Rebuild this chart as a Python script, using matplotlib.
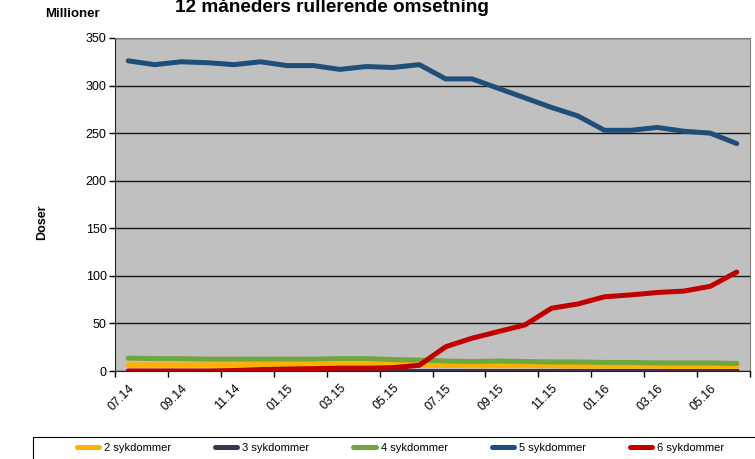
import matplotlib.pyplot as plt
import numpy as np
from matplotlib.patches import Rectangle

plt.rcParams["font.family"] = ["Liberation Sans", "DejaVu Sans"]

months = [
    "07.14", "08.14", "09.14", "10.14", "11.14", "12.14",
    "01.15", "02.15", "03.15", "04.15", "05.15", "06.15",
    "07.15", "08.15", "09.15", "10.15", "11.15", "12.15",
    "01.16", "02.16", "03.16", "04.16", "05.16", "06.16",
]

s2 = [6.5, 6.5, 6.5, 6.5, 6.5, 7, 7, 7, 7, 7, 7, 6.5,
      6, 5.5, 5.5, 5.5, 5.5, 5, 5, 5, 5, 4.5, 4.5, 4.5]
s3 = [0.5, 0.5, 0.5, 0.5, 0.5, 0.5, 0.5, 0.5, 0.5, 0.5, 0.5, 0.5,
      0.5, 0.5, 0.5, 0.5, 0.5, 0.5, 0.5, 0.5, 0.5, 0.5, 0.5, 0.5]
s4 = [13.5, 13, 13, 12.5, 12.5, 12.5, 12.5, 12.5, 13, 13, 12, 11.5,
      10.5, 10, 10.5, 10, 9.5, 9.5, 9, 9, 8.5, 8.5, 8.5, 8]
s5 = [326, 322, 325, 324, 322, 325, 321, 321, 317, 320, 319, 322,
      307, 307, 297, 287, 277, 268, 253, 253, 256, 252, 250, 239]
s6 = [0, 0, 0, 0, 0.5, 1.5, 2, 2.5, 3, 3, 3.5, 6,
      25.5, 34.5, 41.5, 48.5, 66, 70.5, 78, 80, 82.5, 84, 89, 104]

series = [
    ("2 sykdommer", s2, "#FFB000"),
    ("3 sykdommer", s3, "#3F3151"),
    ("4 sykdommer", s4, "#6FA63D"),
    ("5 sykdommer", s5, "#1F4E79"),
    ("6 sykdommer", s6, "#C00000"),
]

W, H = 755, 459
fig = plt.figure(figsize=(W / 100, H / 100), dpi=100)
ax = fig.add_axes([115 / W, 88 / H, 635 / W, 333 / H])
ax.set_facecolor("#C0C0C0")

x = np.arange(len(months))
for name, vals, col in series:
    ax.plot(x, vals, color=col, lw=3.6, label=name, solid_capstyle="round", zorder=3)

ax.set_xlim(-0.5, len(months) - 0.5)
ax.set_ylim(0, 350)
ax.set_yticks(range(0, 351, 50))
ax.yaxis.grid(True, color="#1A1A1A", lw=1)
ax.set_axisbelow(True)
ax.tick_params(axis="y", labelsize=9, length=4, width=1, pad=2)

ax.set_xticks(x[::2])
ax.set_xticklabels(months[::2], rotation=45, ha="right", rotation_mode="anchor")
ax.set_xticks(np.arange(-0.5, len(months), 2), minor=True)
ax.tick_params(axis="x", which="major", length=0, labelsize=9, pad=8)
ax.tick_params(axis="x", which="minor", length=4, width=1)

for side in ["top", "right"]:
    ax.spines[side].set_color("#808080")
ax.spines["left"].set_color("#222222")
ax.spines["bottom"].set_color("#222222")

# title is partly cut off at the top in the original
fig.text(332 / W, 1 - 12 / H, "12 måneders rullerende omsetning",
         ha="center", va="baseline", fontsize=13.7, fontweight="bold")
fig.text(72 / W, 1 - 14 / H, "Millioner", ha="center", va="center",
         fontsize=9.5, fontweight="bold")
fig.text(42 / W, 1 - 222 / H, "Doser", ha="center", va="center",
         rotation=90, fontsize=9, fontweight="bold")

# legend box drawn separately, entries without frame
fig.patches.append(Rectangle((33 / W, -0.01), 730 / W, (459 - 437) / H + 0.01,
                             transform=fig.transFigure, facecolor="white",
                             edgecolor="black", lw=0.8))
leg = fig.legend(loc="center left", bbox_to_anchor=(77 / W, 1 - 448 / H),
                 ncol=5, fontsize=8, frameon=False,
                 handlelength=2.0, handletextpad=0.45, columnspacing=3.95,
                 borderaxespad=0, borderpad=0)

fig.savefig("out.png", dpi=100)
